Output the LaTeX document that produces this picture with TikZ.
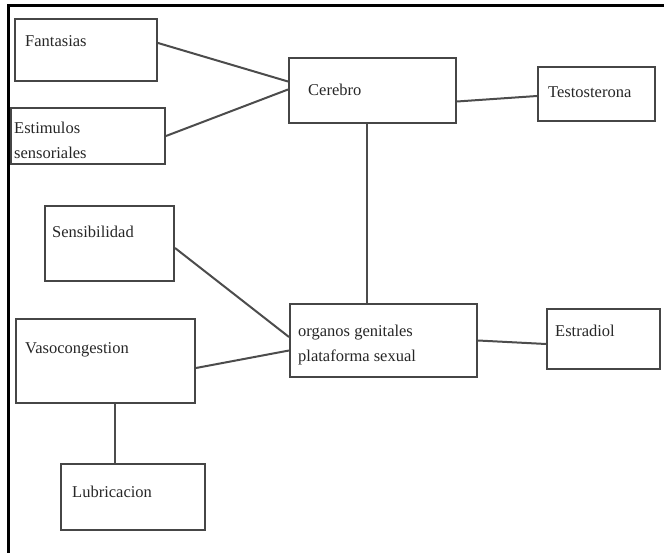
\documentclass[tikz,border=0pt]{standalone}
\usepackage{fontspec}
\setmainfont{Liberation Serif}
\usetikzlibrary{positioning}

\begin{document}
\begin{tikzpicture}[
    x=1pt, y=-1pt,
    box/.style={
        draw=gray!55!black, line width=2pt, rectangle, anchor=north west,
        inner sep=0pt
    },
    txt/.style={
        anchor=west, inner sep=0pt, align=left, text=black!85,
        font=\fontsize{16.5}{25}\selectfont
    },
    conn/.style={draw=gray!60!black, line width=2pt}
]

% Page size and frame
\useasboundingbox (0,0) rectangle (664,553);
\draw[line width=3pt] (8,553) -- (8,6) -- (664,6);

% ============================== LEFT COLUMN ==============================
\node[box, minimum width=142pt, minimum height=62pt,
    label={[txt, xshift=11pt, yshift=-23pt]north west:Fantasias}] (fant) at (14,18) {};
\node[box, minimum width=154pt, minimum height=56pt,
    label={[txt, xshift=4pt, yshift=-33pt]north west:Estimulos\\sensoriales}] (estim) at (10,107) {};
\node[box, minimum width=129pt, minimum height=75pt,
    label={[txt, xshift=8pt, yshift=-27pt]north west:Sensibilidad}] (sens) at (44,205) {};
\node[box, minimum width=179pt, minimum height=84pt,
    label={[txt, xshift=10pt, yshift=-32pt]north west:Vasocongestion}] (vaso) at (15,318) {};
\node[box, minimum width=144pt, minimum height=66pt,
    label={[txt, xshift=12pt, yshift=-29pt]north west:Lubricacion}] (lubr) at (60,463) {};

% ============================== CENTRE ==============================
\node[box, minimum width=167pt, minimum height=65pt,
    label={[txt, xshift=20pt, yshift=-33pt]north west:Cerebro}] (cer) at (288,57) {};
\node[box, minimum width=187pt, minimum height=73pt,
    label={[txt, xshift=9pt, yshift=-42pt]north west:organos genitales\\plataforma sexual}] (org) at (289,303) {};

% ============================== RIGHT COLUMN ==============================
\node[box, minimum width=117pt, minimum height=54pt,
    label={[txt, xshift=11pt, yshift=-26pt]north west:Testosterona}] (testo) at (537,66) {};
\node[box, minimum width=113pt, minimum height=60pt,
    label={[txt, xshift=9pt, yshift=-23pt]north west:Estradiol}] (estr) at (546,308) {};

% Connections into the brain
\draw[conn] ([yshift=7pt]fant.east) -- ([yshift=9pt]cer.west);
\draw[conn] (estim.east) -- ([yshift=1pt]cer.west);
\draw[conn] ([yshift=-11pt]cer.east) -- ([yshift=-2pt]testo.west);
\draw[conn] ([xshift=-6pt]cer.south) -- ([xshift=-6pt]cer.south |- org.north);

% Connections into the genital organs
\draw[conn] ([yshift=-4.5pt]sens.east) -- ([yshift=3.5pt]org.west);
\draw[conn] ([yshift=-7pt]vaso.east) -- ([yshift=-10pt]org.west);
\draw[conn] (org.east) -- ([yshift=-5pt]estr.west);
\draw[conn] ([xshift=9.5pt]vaso.south) -- ([xshift=9.5pt]vaso.south |- lubr.north);

\end{tikzpicture}
\end{document}
